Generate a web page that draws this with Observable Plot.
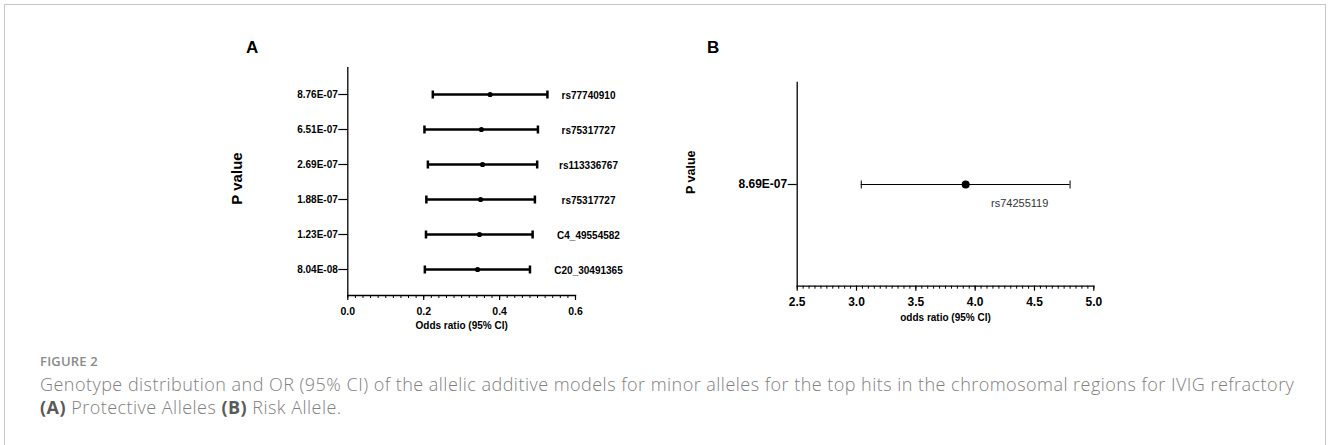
<!DOCTYPE html>
<html><head><meta charset="utf-8">
<script src="https://cdn.jsdelivr.net/npm/d3@7"></script>
<script src="https://cdn.jsdelivr.net/npm/@observablehq/plot@0.6"></script>
<style>
body{margin:0;background:#fff;}
#fig{position:relative;width:1328px;height:445px;overflow:hidden;font-family:"Liberation Sans",Arial,sans-serif;background:#fff;}
#border{position:absolute;left:4px;top:4px;width:1322px;height:470px;border:1px solid #c8c8c8;box-sizing:border-box;}
.panel{position:absolute;}
.letter{position:absolute;font-weight:bold;font-size:17px;line-height:17px;}
#cap{position:absolute;left:40px;top:352px;font-family:"Open Sans",sans-serif;color:#808080;}
#cap .fig{font-size:13px;font-weight:600;letter-spacing:0.2px;line-height:18px;color:#8a8a8a;}
#cap .txt{font-size:18px;letter-spacing:0.47px;line-height:23px;margin-top:3px;white-space:nowrap;font-weight:300;}
#cap b{color:#5a5a5a;font-weight:700;}
</style></head>
<body>
<div id="fig">
  <div id="border"></div>
  <div class="letter" style="left:246px;top:39px;">A</div>
  <div class="letter" style="left:707px;top:39px;">B</div>
  <div class="panel" id="pa" style="left:200px;top:30px;"></div>
  <div class="panel" id="pb" style="left:680px;top:30px;"></div>
  <div id="cap">
    <div class="fig">FIGURE 2</div>
    <div class="txt">Genotype distribution and OR (95% CI) of the allelic additive models for minor alleles for the top hits in the chromosomal regions for IVIG refractory<br><b>(A)</b> Protective Alleles <b>(B)</b> Risk Allele.</div>
  </div>
</div>
<script>
// ---- Panel A data (protective alleles) ----
const pValuesA = ["8.76E-07","6.51E-07","2.69E-07","1.88E-07","1.23E-07","8.04E-08"];
const snpsA    = ["rs77740910","rs75317727","rs113336767","rs75317727","C4_49554582","C20_30491365"];
const orA      = [0.375, 0.352, 0.355, 0.350, 0.347, 0.342];
const lowerA   = [0.224, 0.202, 0.211, 0.207, 0.206, 0.203];
const upperA   = [0.526, 0.501, 0.499, 0.493, 0.487, 0.480];
const xTicksA  = [0, 0.2, 0.4, 0.6];
// ---- Panel B data (risk allele) ----
const pValuesB = ["8.69E-07"];
const snpsB    = ["rs74255119"];
const orB      = [3.92];
const lowerB   = [3.04];
const upperB   = [4.80];
const xTicksB  = [2.5, 3.0, 3.5, 4.0, 4.5, 5.0];

const font = "Liberation Sans, Arial, sans-serif";
const dataA = pValuesA.map((p, i) => ({p, snp: snpsA[i], or: orA[i], lo: lowerA[i], hi: upperA[i]}));
const dataB = pValuesB.map((p, i) => ({p, snp: snpsB[i], or: orB[i], lo: lowerB[i], hi: upperB[i]}));
const minorA = d3.range(0, 0.6001, 0.02);
const minorB = d3.range(2.5, 5.0001, 0.05);

// vertical cap symbol for error-bar ends
const cap = {draw(context, size) { const r = Math.sqrt(size / Math.PI); context.moveTo(0, -r); context.lineTo(0, r); }};

const plotA = Plot.plot({
  width: 440, height: 310,
  marginLeft: 147.3, marginRight: 65, marginTop: 37, marginBottom: 45,
  style: {fontFamily: font, color: "#000", background: "transparent", overflow: "visible"},
  x: {domain: [0, 0.6]},
  y: {type: "point", domain: pValuesA, padding: 0.667},
  marks: [
    Plot.ruleX([0], {stroke: "#000", strokeWidth: 1.3}),
    Plot.frame({anchor: "bottom", stroke: "#000", strokeWidth: 1.3}),
    Plot.axisX({ticks: minorA, tickSize: 3, tickFormat: () => "", label: null, strokeWidth: 1}),
    Plot.axisX({ticks: xTicksA, tickSize: 5, tickPadding: 7, tickFormat: d3.format(".1f"), fontSize: 10.5, fontWeight: "bold", label: null, strokeWidth: 1.2}),
    Plot.axisY({tickSize: 9, tickPadding: 1, fontSize: 10, fontWeight: "bold", label: null, strokeWidth: 1.2}),
    Plot.ruleY(dataA, {y: "p", x1: "lo", x2: "hi", stroke: "#000", strokeWidth: 2.5}),
    Plot.dot(dataA, {x: "lo", y: "p", symbol: cap, r: 4, fill: "none", stroke: "#000", strokeWidth: 2.5}),
    Plot.dot(dataA, {x: "hi", y: "p", symbol: cap, r: 4, fill: "none", stroke: "#000", strokeWidth: 2.5}),
    Plot.dot(dataA, {x: "or", y: "p", r: 2.6, fill: "#000"}),
    Plot.text(dataA, {y: "p", text: "snp", frameAnchor: "right", textAnchor: "middle", dx: 13, dy: 1, fontSize: 10, fontWeight: "bold"}),
    Plot.text(["Odds ratio (95% CI)"], {frameAnchor: "bottom", lineAnchor: "middle", dy: 30, fontSize: 10, fontWeight: "bold"}),
    Plot.text(["P value"], {frameAnchor: "left", textAnchor: "middle", lineAnchor: "middle", dx: -110.6, dy: -3, rotate: -90, fontSize: 15, fontWeight: "bold"})
  ]
});
document.getElementById("pa").append(plotA);

const plotB = Plot.plot({
  width: 440, height: 300,
  marginLeft: 116.7, marginRight: 26.7, marginTop: 51.7, marginBottom: 44.3,
  style: {fontFamily: font, color: "#000", background: "transparent", overflow: "visible"},
  x: {domain: [2.5, 5]},
  y: {type: "point", domain: pValuesB},
  marks: [
    Plot.ruleX([2.5], {stroke: "#000", strokeWidth: 1.3}),
    Plot.frame({anchor: "bottom", stroke: "#000", strokeWidth: 1.3}),
    Plot.axisX({ticks: minorB, tickSize: 3, tickFormat: () => "", label: null, strokeWidth: 1}),
    Plot.axisX({ticks: xTicksB, tickSize: 5, tickPadding: 6, tickFormat: d3.format(".1f"), fontSize: 12, fontWeight: "bold", label: null, strokeWidth: 1.2}),
    Plot.axisY({tickSize: 9, tickPadding: 1, fontSize: 12, fontWeight: "bold", label: null, strokeWidth: 1.2}),
    Plot.ruleY(dataB, {y: "p", x1: "lo", x2: "hi", stroke: "#000", strokeWidth: 1}),
    Plot.dot(dataB, {x: "lo", y: "p", symbol: cap, r: 4, fill: "none", stroke: "#000", strokeWidth: 1}),
    Plot.dot(dataB, {x: "hi", y: "p", symbol: cap, r: 4, fill: "none", stroke: "#000", strokeWidth: 1}),
    Plot.dot(dataB, {x: "or", y: "p", r: 4, fill: "#000"}),
    Plot.text(dataB, {x: "or", y: "p", text: "snp", dx: 54, dy: 19, fontSize: 11, fill: "#333"}),
    Plot.text(["odds ratio (95% CI)"], {frameAnchor: "bottom", lineAnchor: "middle", dy: 32, fontSize: 10, fontWeight: "bold"}),
    Plot.text(["P value"], {frameAnchor: "left", textAnchor: "middle", lineAnchor: "middle", dx: -106.7, dy: -12, rotate: -90, fontSize: 12.5, fontWeight: "bold"})
  ]
});
document.getElementById("pb").append(plotB);
</script>
</body></html>
